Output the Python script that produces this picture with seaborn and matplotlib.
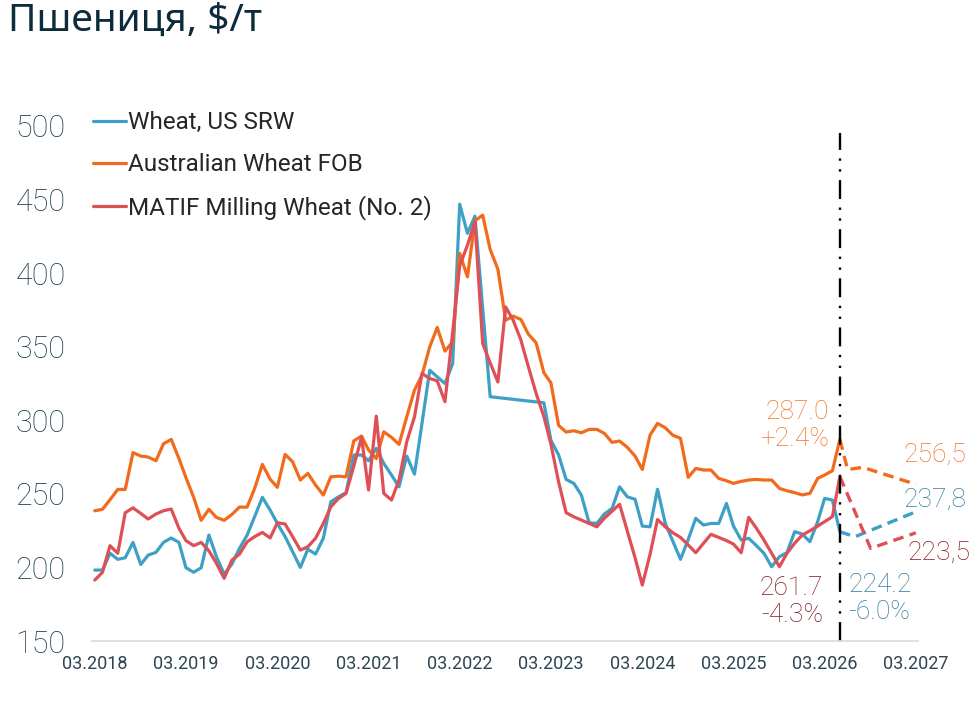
import pandas as pd
import numpy as np
import seaborn as sns
import matplotlib.pyplot as plt

series_names = ['Wheat, US SRW', 'Australian Wheat FOB', 'MATIF Milling Wheat (No. 2)']
line_colors = ['#3FA0C6', '#F26A1B', '#DE4F56']
text_colors = ['#357C9F', '#F0752A', '#861820']

months = pd.date_range('2018-03-01', periods=99, freq='MS')

us_srw = [198.2, 198.2, 209.6, 205.5, 206.6, 217, 202, 208.4, 210.2, 217,
          220, 217, 199.8, 196.7, 199.8, 222, 207.3, 195.5, 202.3, 212.9,
          222, 234.5, 247.6, 239, 229.9, 220.9, 210.7, 200, 212.3, 209.1,
          219.8, 244.6, 248, 250.8, 276.4, 276.4, 272.5, 280.9, 270.7, 262.8,
          254.8, 275.7, 263.4, 297.9, 334, 329.5, 325, 338.6, 446.9, 427,
          438.7, 376, 316, None, None, None, None, None, None, 311.9,
          286.5, 276.4, 259.8, 257.1, 249.2, 230.4, 229.9, 236.3, 240.1, 254.8,
          248, 246.3, 228.1, 227.6, 253.1, 229.9, 217.9, 205.5, 219.1, 233.4,
          228.8, 229.9, 229.9, 243.5, 228.1, 218.6, 219.8, 214.8, 209.6, 200.5,
          207.3, 210, 224.3, 222.7, 217.5, 231.1, 246.9, 245.8, 224.2]

aus_fob = [238.5, 239.5, 246, 253, 253, 278, 275.7, 275, 272.5, 284,
           287, 274, 261, 247.6, 232, 239.5, 234, 232, 236, 241,
           241, 253.7, 270, 260, 254.4, 276.8, 271.8, 259.4, 263.9, 256,
           249.2, 261.6, 262, 261.6, 286, 289.3, 279.8, 274, 292.2, 288.4,
           283.6, 302.4, 320.5, 330.7, 349.9, 363.1, 347, 353.3, 413.4, 397.5,
           435.5, 439.4, 416.1, 402.5, 368, 370.8, 368.5, 358.5, 352.6, 332.3,
           325.5, 296.5, 292, 292.9, 291.5, 293.8, 293.8, 291.1, 285, 285.9,
           281.6, 275.7, 266.6, 289.9, 297.9, 294.9, 289.9, 287.7, 261.2, 267.3,
           266.2, 266.2, 260.5, 258.9, 257.1, 258.5, 259.4, 259.8, 259.4, 259.4,
           253.7, 252.1, 250.8, 249.3, 250.3, 260.5, 262.8, 265.7, 287.0]

matif = [191.4, 196.7, 214.8, 209.6, 237.2, 240.5, 236.7, 232.9, 236.3, 238.5,
         239.7, 226.6, 218.2, 214.8, 217, 211.3, 202.8, 192.6, 205, 209,
         217.4, 220.9, 223.8, 220, 230.4, 229.5, 220.9, 211.8, 214, 219.8,
         229.9, 241.2, 246.9, 250.3, 268.9, 288.4, 252.6, 302.8, 250.3, 245.8,
         259.4, 285.4, 302.4, 331.8, 328.4, 326.8, 312.6, 360, 405, 419,
         434.8, 352.2, 339, 326, 377, 368, 354.5, 336.3, 318.3, 302.4,
         284, 258, 237.2, 234.4, 232.2, 229.9, 227.6, 233.4, 238.3, 242.9,
         224.7, 206.6, 188, 208.9, 232.6, 227.6, 223.6, 220.4, 215.2, 210,
         216.4, 222.5, 220.4, 218.2, 215.9, 210, 234, 226.6, 218.6, 209.6,
         200.5, 209.6, 216.4, 222, 224.9, 228.1, 231.1, 234.5, 261.7]

# forecasts
us_fc_dates = ['2026-05-01', '2026-07-01', '2027-03-01']
us_fc = [224.2, 220.9, 237.8]
aus_fc_dates = ['2026-05-01', '2026-06-01', '2026-08-01', '2026-11-01', '2027-03-01']
aus_fc = [287.0, 266.5, 268.0, 263.0, 256.5]
matif_fc_dates = ['2026-05-01', '2026-09-01', '2027-03-01']
matif_fc = [261.7, 213.0, 223.5]

last_labels = ['224.2\n-6.0%', '287.0\n+2.4%', '261.7\n-4.3%']
end_labels = ['237,8', '256,5', '223,5']

actual = pd.concat([
    pd.DataFrame({'date': months, 'value': vals, 'series': name})
    for name, vals in zip(series_names, [us_srw, aus_fob, matif])
], ignore_index=True)
actual['value'] = actual['value'].astype(float)

forecast = pd.concat([
    pd.DataFrame({'date': pd.to_datetime(d), 'value': v, 'series': name})
    for name, d, v in zip(series_names,
                          [us_fc_dates, aus_fc_dates, matif_fc_dates],
                          [us_fc, aus_fc, matif_fc])
], ignore_index=True)

sns.set_theme(style='white')
plt.rcParams['font.family'] = ['Noto Sans', 'DejaVu Sans']
light_font = ['Roboto', 'Noto Sans', 'DejaVu Sans']

fig = plt.figure(figsize=(9.8, 7.09), dpi=100)
ax = fig.add_axes([0.0939, 0.0959, 0.8429, 0.7368])

palette = dict(zip(series_names, line_colors))
sns.lineplot(data=actual, x='date', y='value', hue='series', hue_order=series_names,
             palette=palette, linewidth=2.3, ax=ax)
for name in series_names:
    sns.lineplot(data=forecast[forecast['series'] == name], x='date', y='value',
                 color=palette[name], linewidth=2.4, ax=ax, legend=False,
                 linestyle=(0, (3.2, 1.9)))

cut = pd.Timestamp('2026-05-01')
ax.vlines(cut, 150, 495, colors='black', linewidth=1.7,
          linestyles=[(0, (8.0, 3.6, 1.0, 3.6, 1.0, 3.6))])

# annotations at the last actual point
last_vals = [us_srw[-1], aus_fob[-1], matif[-1]]
last_offsets = [(6, -48, 'left'), (-8, 10, 'right'), (-12, -90, 'right')]
for lbl, val, col, (dx, dy, ha) in zip(last_labels, last_vals, text_colors, last_offsets):
    ax.annotate(lbl, xy=(cut, val), xytext=(dx, dy), textcoords='offset points',
                ha=ha, va='center', color=col, fontsize=19, fontweight='light',
                family=light_font, linespacing=1.15, multialignment=ha)

end_date = pd.Timestamp('2027-03-01')
end_vals = [us_fc[-1], aus_fc[-1], matif_fc[-1]]
end_offsets = [(-9, 9), (-9, 21), (-6, -14)]
for lbl, val, col, (dx, dy) in zip(end_labels, end_vals, text_colors, end_offsets):
    ax.annotate(lbl, xy=(end_date, val), xytext=(dx, dy), textcoords='offset points',
                ha='left', va='center', color=col, fontsize=19, fontweight='light',
                family=light_font)

ax.set_xlim(pd.Timestamp('2018-02-18'), pd.Timestamp('2027-03-10'))
ax.set_ylim(150, 505)
ax.set_yticks(range(150, 501, 50))
ticks = pd.date_range('2018-03-01', '2027-03-01', freq='12MS')
ax.set_xticks(ticks)
ax.set_xticklabels([t.strftime('%m.%Y') for t in ticks], fontsize=13,
                   color='#2E4451', family=['Roboto', 'DejaVu Sans'])
ax.tick_params(axis='y', labelsize=22, labelcolor='#1E3F4F', pad=19, length=0)
ax.tick_params(axis='x', pad=10, length=0)
for t in ax.get_yticklabels():
    t.set_fontweight('light')
    t.set_family(light_font)
ax.set_xlabel('')
ax.set_ylabel('')
sns.despine(ax=ax, left=True)
ax.spines['bottom'].set_color('#D9D9D9')
ax.spines['bottom'].set_linewidth(1.2)

handles, labels = ax.get_legend_handles_labels()
ax.legend(handles[:3], labels[:3], loc='upper left', bbox_to_anchor=(0.0949, 0.843),
          bbox_transform=fig.transFigure, frameon=False,
          handlelength=1.35, handletextpad=0.1, labelspacing=0.78,
          borderpad=0, borderaxespad=0, prop={'family': ['Roboto', 'DejaVu Sans'], 'size': 17.5})

fig.text(8 / 980, 1 - 21 / 709, 'Пшениця, $/т', fontsize=28, color='#0D2B3A',
         va='center', ha='left', fontweight='medium')

fig.savefig('out.png', dpi=100)
